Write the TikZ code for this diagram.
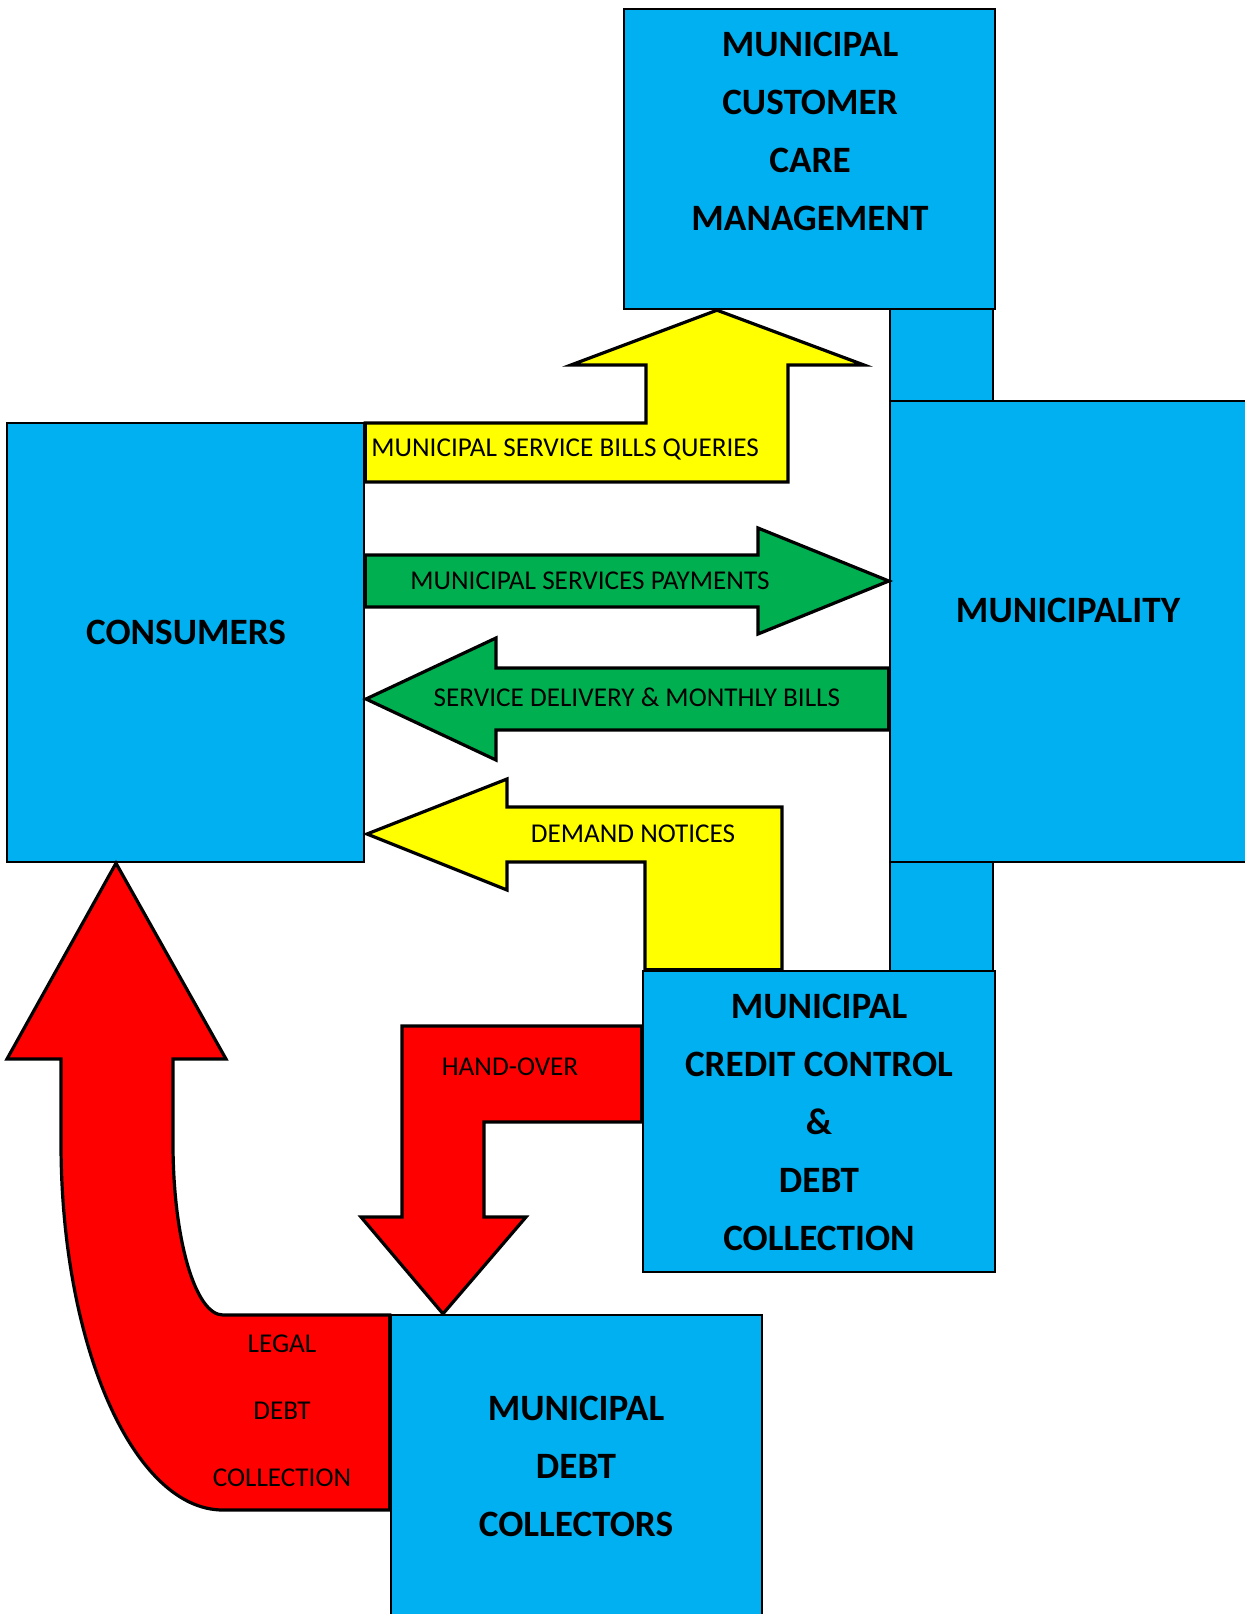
\documentclass[tikz,border=0pt]{standalone}
\usepackage{fontspec}
\setmainfont{Carlito}
\usepackage{tikz}
\usetikzlibrary{fit}
\definecolor{boxblue}{RGB}{0,176,240}
\definecolor{arrowgreen}{RGB}{0,176,80}
\definecolor{arrowyellow}{RGB}{255,255,0}
\definecolor{arrowred}{RGB}{255,0,0}

\begin{document}
\begin{tikzpicture}[
  x=0.5pt, y=-0.5pt,
  blubox/.style={draw,fill=boxblue,line width=1.2pt,inner sep=0pt},
  blockarr/.style={draw,line width=1.6pt,line join=miter},
  boldtxt/.style={font=\fontsize{18.6pt}{29pt}\selectfont\bfseries,align=center,inner sep=0pt},
  smalltxt/.style={font=\fontsize{13.6pt}{33.5pt}\selectfont,align=center,inner sep=0pt}
]
\useasboundingbox (0,0) rectangle (1245,1614);

% Links between the municipality and its departments
\node[blubox,fit={(890,300) (993,410)}] (upbar) {};
\node[blubox,fit={(890,852) (993,980)}] (lowbar) {};

% Boxes
\node[blubox,fit={(624,9) (995,309)}] (care) {};
\node[blubox,fit={(890,401) (1262,862)}] (muni) {};
\node[blubox,fit={(643,971) (995,1272)}] (credit) {};
\node[blubox,fit={(7,423) (364,862)}] (cons) {};
\node[blubox,fit={(391,1315) (762,1630)}] (coll) {};

% Queries: consumers to customer care
\draw[blockarr,fill=arrowyellow] (cons.east |- 0,423) -- (646,423) -- (646,365)
  -- (571,365) -- (care.south -| 717,0) -- (864,365) -- (788,365) -- (788,482)
  -- (cons.east |- 0,482) -- cycle;

% Payments: consumers to municipality
\draw[blockarr,fill=arrowgreen] (cons.east |- 0,555) -- (758,555) -- (758,528)
  -- (muni.west |- 0,581) -- (758,634) -- (758,607) -- (cons.east |- 0,607) -- cycle;

% Service delivery: municipality to consumers
\draw[blockarr,fill=arrowgreen] (muni.west |- 0,668) -- (496,668) -- (496,638)
  -- (366,699) -- (496,760) -- (496,730) -- (muni.west |- 0,730) -- cycle;

% Demand notices: credit control to consumers
\draw[blockarr,fill=arrowyellow] (credit.north -| 645,0) -- (645,862) -- (507,862)
  -- (507,890) -- (367,834) -- (507,779) -- (507,807) -- (782,807)
  -- (credit.north -| 782,0) -- cycle;

% Hand-over: credit control to debt collectors
\draw[blockarr,fill=arrowred] (credit.west |- 0,1026) -- (402,1026) -- (402,1217)
  -- (361,1217) -- (coll.north -| 443,0) -- (526,1217) -- (484,1217) -- (484,1122)
  -- (credit.west |- 0,1122) -- cycle;

% Legal debt collection: debt collectors to consumers
\draw[blockarr,fill=arrowred] (coll.west |- 0,1315) -- (223,1315)
  .. controls (195,1315) and (173,1238) .. (173,1143) -- (173,1059) -- (226,1059)
  -- (cons.south -| 116,0) -- (7,1059) -- (61,1059) -- (61,1143)
  .. controls (61,1346) and (134,1510) .. (223,1510) -- (coll.west |- 0,1510) -- cycle;

% Box texts
\node[boldtxt] (careTxt) at (810,131) {MUNICIPAL\\CUSTOMER\\CARE\\MANAGEMENT};
\node[boldtxt] (consTxt) at (186,632) {CONSUMERS};
\node[boldtxt] (muniTxt) at (1068,610) {MUNICIPALITY};
\node[boldtxt] (creditTxt) at (819,1122) {MUNICIPAL\\CREDIT CONTROL\\\&\\DEBT\\COLLECTION};
\node[boldtxt] (collTxt) at (576,1466) {MUNICIPAL\\DEBT\\COLLECTORS};

% Arrow texts
\node[smalltxt,anchor=west] (queriesTxt) at (371,449) {MUNICIPAL SERVICE BILLS QUERIES};
\node[smalltxt] (payTxt) at (590,581) {MUNICIPAL SERVICES PAYMENTS};
\node[smalltxt] (serviceTxt) at (637,697) {SERVICE DELIVERY \& MONTHLY BILLS};
\node[smalltxt] (demandTxt) at (633,834) {DEMAND NOTICES};
\node[smalltxt] (handTxt) at (510,1067) {HAND-OVER};
\node[smalltxt] (legalTxt) at (282,1411) {LEGAL\\DEBT\\COLLECTION};

\end{tikzpicture}
\end{document}
